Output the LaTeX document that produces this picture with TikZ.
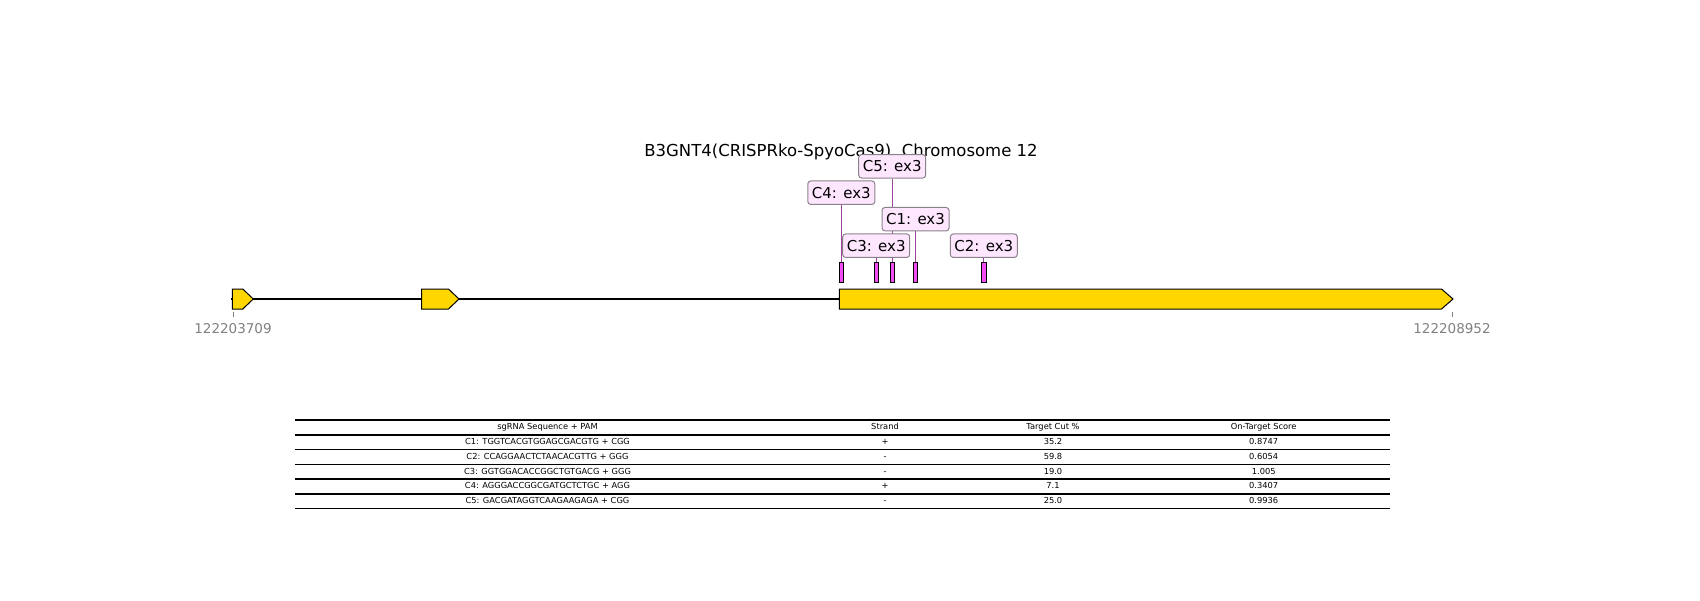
\documentclass[tikz,border=0pt]{standalone}
\usepackage{fontspec}
\setmainfont{DejaVu Sans}
\usetikzlibrary{backgrounds}
\definecolor{exongold}{HTML}{FFD700}
\definecolor{guidefill}{HTML}{F44CF4}
\definecolor{labelfill}{HTML}{FFE6FF}
\definecolor{labelborder}{HTML}{8A828A}
\definecolor{linepurple}{HTML}{9A449A}
\definecolor{tickgray}{HTML}{808080}
\begin{document}
\begin{tikzpicture}[x=1pt,y=-1pt,
    exon/.style={draw=black, fill=exongold, line width=1pt, line join=miter},
    guide/.style={draw=black, fill=guidefill, line width=0.9pt, minimum width=4.5pt, minimum height=20pt, inner sep=0pt},
    glabel/.style={draw=labelborder, fill=labelfill, rounded corners=3pt, line width=1pt, minimum width=67pt, minimum height=23.5pt, inner sep=0pt, font=\fontsize{15}{18}\selectfont},
    gline/.style={draw=linepurple, line width=0.9pt},
    ticklabel/.style={text=tickgray, font=\fontsize{13.5}{16}\selectfont, anchor=base},
    cell/.style={font=\fontsize{8.3}{10}\selectfont, inner sep=0pt, anchor=base},
    rowline/.style={line width=1.6pt}]
    \useasboundingbox (0,0) rectangle (1700,600);

    \node[font=\fontsize{16.5}{20}\selectfont, anchor=base] (title) at (841,156) {B3GNT4(CRISPRko-SpyoCas9), Chromosome 12};

    % gene backbone and exons
    \coordinate (start) at (231,299);
    \coordinate (end) at (1453,299);
    \draw[line width=2pt] (start) -- (end);
    \draw[exon] (232.3,289) -- (242.8,289) -- (253.3,299) -- (242.8,309) -- (232.3,309) -- cycle;
    \draw[exon] (421.7,289) -- (448.5,289) -- (459,299) -- (448.5,309) -- (421.7,309) -- cycle;
    \draw[exon] (839.3,289) -- (1441.5,289) -- (1453,299) -- (1441.5,309) -- (839.3,309) -- cycle;

    % end ticks
    \coordinate (tickL) at (233,312);
    \coordinate (tickR) at (1452,312);
    \draw[tickgray, line width=0.8pt] (tickL) -- ++(0,5);
    \draw[tickgray, line width=0.8pt] (tickR) -- ++(0,5);
    \node[ticklabel] (posL) at (233,333.3) {122203709};
    \node[ticklabel] (posR) at (1452,333.3) {122208952};

    % guides
    \node[guide] (g4) at (841.3,272) {};
    \node[guide] (g3) at (876.2,272) {};
    \node[guide] (g5) at (892.2,272) {};
    \node[guide] (g1) at (915.5,272) {};
    \node[guide] (g2) at (983.8,272) {};

    \node[glabel] (l5) at (892.2,166.3) {C5: ex3};
    \node[glabel] (l4) at (841.3,192.7) {C4: ex3};
    \node[glabel] (l1) at (915.5,219.2) {C1: ex3};
    \node[glabel] (l3) at (876.2,245.7) {C3: ex3};
    \node[glabel] (l2) at (983.8,245.7) {C2: ex3};

    \begin{scope}[on background layer]
        \foreach \i in {1,...,5}
            \draw[gline] (g\i.north) -- (g\i.north |- l\i.south);
    \end{scope}

    % table
    \foreach \k in {0,...,6}
        \draw[rowline] (295,420+14.78*\k) -- (1390,420+14.78*\k);
    \node[cell] (h1) at (547.5,429.8) {sgRNA Sequence + PAM};
    \node[cell] (h2) at (885,429.8) {Strand};
    \node[cell] (h3) at (1053,429.8) {Target Cut \%};
    \node[cell] (h4) at (1263.7,429.8) {On-Target Score};
    \foreach \seq/\strand/\cut/\score [count=\r] in {
        C1: TGGTCACGTGGAGCGACGTG + CGG/+/35.2/0.8747,
        C2: CCAGGAACTCTAACACGTTG + GGG/-/59.8/0.6054,
        C3: GGTGGACACCGGCTGTGACG + GGG/-/19.0/1.005,
        C4: AGGGACCGGCGATGCTCTGC + AGG/+/7.1/0.3407,
        C5: GACGATAGGTCAAGAAGAGA + CGG/-/25.0/0.9936}
    {
        \node[cell] (seq\r) at (547.5,429.8+14.78*\r) {\seq};
        \node[cell] (strand\r) at (885,429.8+14.78*\r) {\strand};
        \node[cell] (cut\r) at (1053,429.8+14.78*\r) {\cut};
        \node[cell] (score\r) at (1263.7,429.8+14.78*\r) {\score};
    }
\end{tikzpicture}
\end{document}
